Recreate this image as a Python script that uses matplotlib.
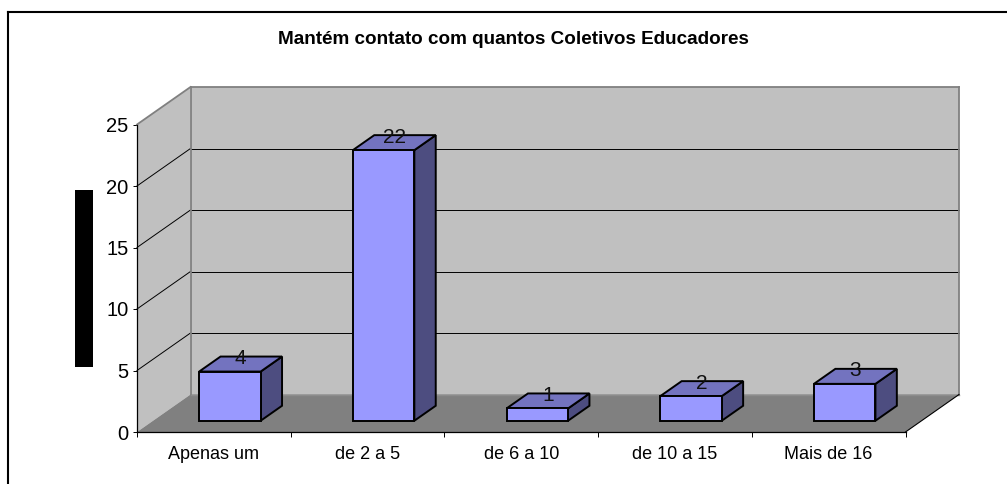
import matplotlib
matplotlib.use('Agg')
import matplotlib.pyplot as plt
from matplotlib.patches import Rectangle
from matplotlib.lines import Line2D
from matplotlib.transforms import Affine2D

plt.rcParams['font.family'] = ['Liberation Sans', 'DejaVu Sans']

categories = ['Apenas um', 'de 2 a 5', 'de 6 a 10', 'de 10 a 15', 'Mais de 16']
values = [4, 22, 1, 2, 3]
y_ticks = [0, 5, 10, 15, 20, 25]
title = 'Mantém contato com quantos Coletivos Educadores'

W, H = 1007, 484
DEPTH_X, DEPTH_Y = 53.5, 37.5
BAR_W = 0.4
BAR_D0, BAR_D1 = 0.3, 0.7

fig = plt.figure(figsize=(W / 100, H / 100), dpi=100)
ax = fig.add_axes([137 / W, 1 - 432 / H, 768.5 / W, 307.5 / H])
ax.set_xlim(0, len(categories))
ax.set_ylim(0, y_ticks[-1])
ax.patch.set_visible(False)


def depth(d):
    # data coords pushed back into the 3d box, offset is in pixels
    return ax.transData + Affine2D().translate(DEPTH_X * d, DEPTH_Y * d)


def to_px(x, y, d):
    return depth(d).transform((x, y))


def poly(points, color, edge='none', lw=0, z=1):
    px = [to_px(*p) for p in points]
    ax.fill([p[0] for p in px], [p[1] for p in px], facecolor=color, edgecolor=edge,
            linewidth=lw, transform=None, clip_on=False, zorder=z, joinstyle='miter')


def seg(p0, p1, color, lw, z=2):
    a, b = to_px(*p0), to_px(*p1)
    ax.add_line(Line2D([a[0], b[0]], [a[1], b[1]], color=color, lw=lw, transform=None,
                       clip_on=False, zorder=z))


n = len(categories)
top = y_ticks[-1]

# walls and floor
poly([(0, 0, 1), (n, 0, 1), (n, top, 1), (0, top, 1)], '#c0c0c0')
poly([(0, 0, 0), (0, 0, 1), (0, top, 1), (0, top, 0)], '#c0c0c0')
poly([(0, 0, 0), (n, 0, 0), (n, 0, 1), (0, 0, 1)], '#808080')

for t in y_ticks[1:-1]:
    seg((0, t, 0), (0, t, 1), 'black', 0.7)
    seg((0, t, 1), (n, t, 1), 'black', 0.7)

seg((0, top, 0), (0, top, 1), '#808080', 1.3)
seg((0, top, 1), (n, top, 1), '#808080', 1.3)
seg((0, 0, 1), (0, top, 1), '#808080', 1.3)
seg((n, 0, 1), (n, top, 1), '#808080', 1.3)
seg((0, 0, 1), (n, 0, 1), '#8c8c8c', 1.0)
seg((n, 0, 0), (n, 0, 1), 'black', 0.8)

# bars
for i, v in enumerate(values):
    x0 = i + 0.5 - BAR_W / 2
    x1 = i + 0.5 + BAR_W / 2
    poly([(x1, 0, BAR_D0), (x1, 0, BAR_D1), (x1, v, BAR_D1), (x1, v, BAR_D0)], '#4d4d80', 'black', 1.4, 4)
    poly([(x0, v, BAR_D0), (x1, v, BAR_D0), (x1, v, BAR_D1), (x0, v, BAR_D1)], '#7373bf', 'black', 1.4, 4)
    poly([(x0, 0, BAR_D0), (x1, 0, BAR_D0), (x1, v, BAR_D0), (x0, v, BAR_D0)], '#9999ff', 'black', 1.4, 5)
    ax.text(i + 0.5, v, str(v), transform=depth(0.5), ha='center', va='baseline',
            fontsize=15, color='#111111', zorder=6, clip_on=False)

# axes
for s in ['top', 'right']:
    ax.spines[s].set_visible(False)
for s in ['left', 'bottom']:
    ax.spines[s].set_linewidth(0.9)
    ax.spines[s].set_zorder(3)
ax.set_yticks(y_ticks)
ax.tick_params(axis='y', length=3, width=0.7, pad=3, labelsize=14.5)
ax.set_xticks(range(n + 1))
ax.set_xticklabels([])
ax.tick_params(axis='x', which='major', length=3.5, width=0.7)
ax.set_xticks([i + 0.5 for i in range(n)], minor=True)
ax.set_xticklabels(categories, minor=True, fontsize=13)
ax.tick_params(axis='x', which='minor', length=0, pad=10)

fig.text(513.5 / W, 1 - 40 / H, title, ha='center', va='center', fontsize=13.6, fontweight='bold')

# frame of the pasted picture, only left and top survive
fig.add_artist(Line2D([8 / W, 8 / W], [0, 1 - 12 / H], color='black', lw=1.5))
fig.add_artist(Line2D([8 / W, 1], [1 - 12 / H, 1 - 12 / H], color='black', lw=1.5))
# blacked out axis label
fig.add_artist(Rectangle((75 / W, 1 - 367 / H), 18 / W, 177 / H, transform=fig.transFigure,
                         facecolor='black', edgecolor='none'))

fig.savefig('out.png', dpi=100)
